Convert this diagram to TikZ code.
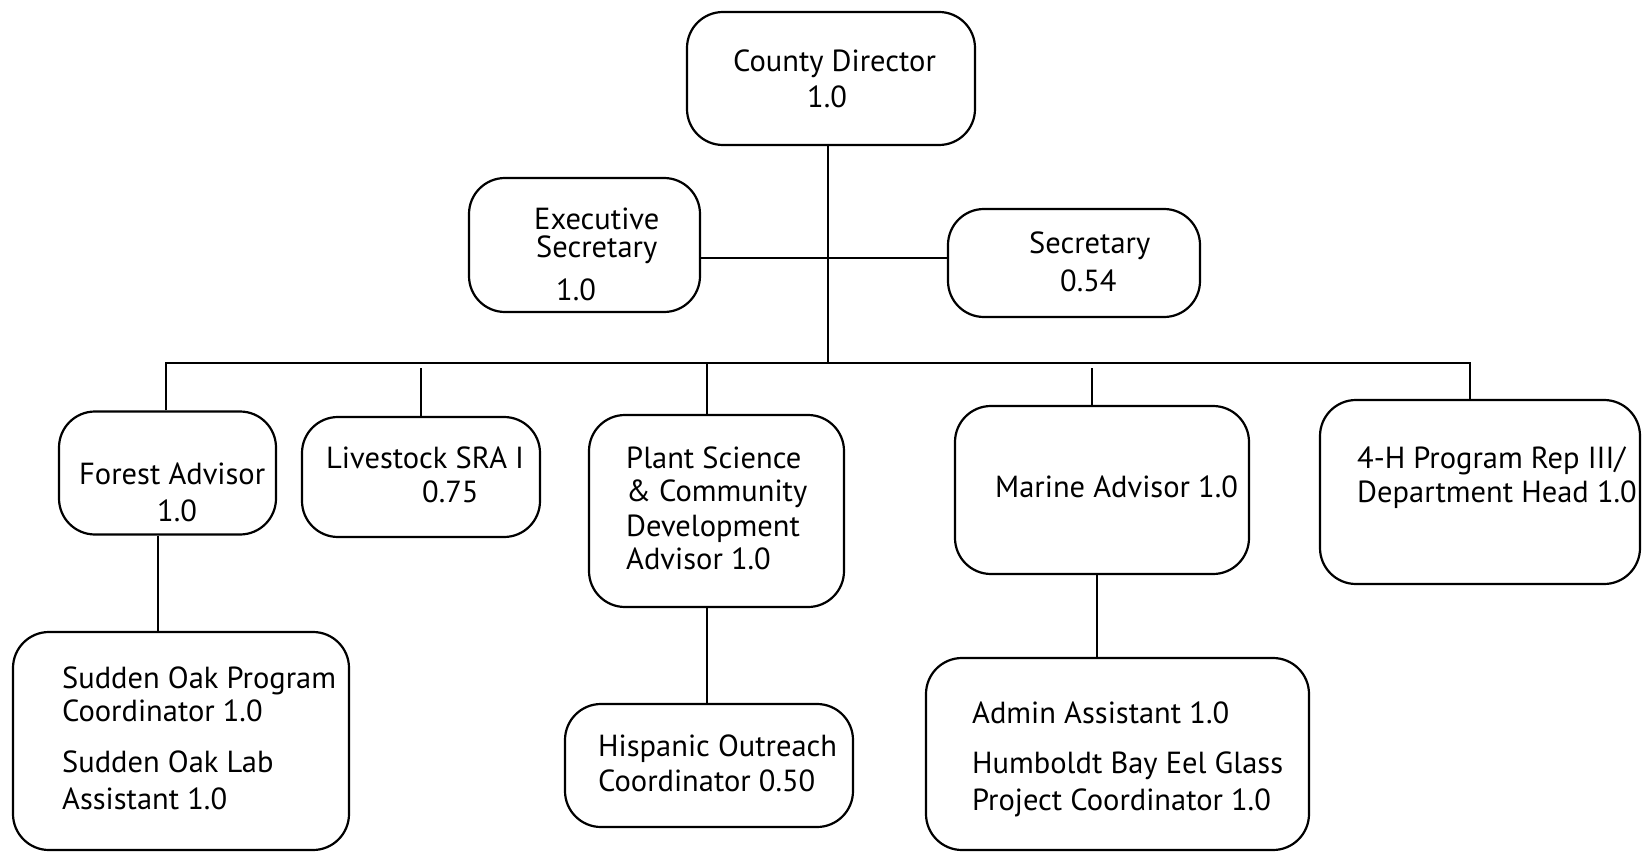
\documentclass[tikz,border=0pt]{standalone}
\usepackage{fontspec}
\setmainfont{PT Sans}
\begin{document}
\begin{tikzpicture}[x=1pt,y=-1pt,
  box/.style={draw=black,line width=2.2pt,rounded corners=36pt,inner sep=0pt},
  txt/.style={anchor=base west,inner sep=0pt,font=\fontsize{30.5}{36}\selectfont},
  link/.style={line width=2.6pt}]
\useasboundingbox (0,0) rectangle (1642,853);
% boxes
\node[box,minimum width=288,minimum height=133] (dir) at (831,78.5) {};
\node[box,minimum width=231,minimum height=134] (exec) at (584.5,245) {};
\node[box,minimum width=252,minimum height=108] (sec) at (1074,263) {};
\node[box,minimum width=217,minimum height=123] (forest) at (167.5,473) {};
\node[box,minimum width=238,minimum height=120] (live) at (421,477) {};
\node[box,minimum width=255,minimum height=192] (plant) at (716.5,511) {};
\node[box,minimum width=294,minimum height=168] (marine) at (1102,490) {};
\node[box,minimum width=320,minimum height=184] (fourh) at (1480,492) {};
\node[box,minimum width=336,minimum height=218] (oak) at (181,741) {};
\node[box,minimum width=288,minimum height=123] (hisp) at (709,765.5) {};
\node[box,minimum width=383,minimum height=192] (admin) at (1117.5,754) {};
% texts
\node[txt] (t1) at (733,72) {County Director};
\node[txt] (t2) at (807,108) {1.0};
\node[txt] (t3) at (534,230) {Executive};
\node[txt] (t4) at (536,258) {Secretary};
\node[txt] (t5) at (556,301) {1.0};
\node[txt] (t6) at (1029,254) {Secretary};
\node[txt] (t7) at (1060,291) {0.54};
\node[txt] (t8) at (79,484) {Forest Advisor};
\node[txt] (t9) at (157,521) {1.0};
\node[txt] (t10) at (326,468) {Livestock SRA I};
\node[txt] (t11) at (422,502) {0.75};
\node[txt] (t12) at (626,468) {Plant Science};
\node[txt] (t13) at (626,501) {\& Community};
\node[txt] (t14) at (626,536) {Development};
\node[txt] (t15) at (626,569) {Advisor 1.0};
\node[txt] (t16) at (995,497) {Marine Advisor 1.0};
\node[txt] (t17) at (1357,468) {4-H Program Rep III/};
\node[txt] (t18) at (1357,502) {Department Head 1.0};
\node[txt] (t19) at (62,688) {Sudden Oak Program};
\node[txt] (t20) at (62,721) {Coordinator 1.0};
\node[txt] (t21) at (62,772) {Sudden Oak Lab};
\node[txt] (t22) at (62,809) {Assistant 1.0};
\node[txt] (t23) at (598,756) {Hispanic Outreach};
\node[txt] (t24) at (598,791) {Coordinator 0.50};
\node[txt] (t25) at (972,723) {Admin Assistant 1.0};
\node[txt] (t26) at (972,773) {Humboldt Bay Eel Glass};
\node[txt] (t27) at (972,810) {Project Coordinator 1.0};
% connectors
\coordinate (mid) at (828,258);
\coordinate (bus) at (828,363);
\coordinate (busL) at (166,363);
\coordinate (busR) at (1470,363);
\coordinate (liveT) at (421,368);
\coordinate (marT) at (1092,368);
\draw[link] (dir.south -| bus) -- (bus);
\draw[link] (exec.east |- mid) -- (sec.west |- mid);
\draw[link] (busL |- forest.north) -- (busL) -- (busR) -- (busR |- fourh.north);
\draw[link] (liveT) -- (liveT |- live.north);
\draw[link] (plant.north -| 707,0) -- (707,363);
\draw[link] (marT) -- (marT |- marine.north);
\draw[link] (forest.south -| 158,0) -- (oak.north -| 158,0);
\draw[link] (plant.south -| 707,0) -- (hisp.north -| 707,0);
\draw[link] (marine.south -| 1097,0) -- (admin.north -| 1097,0);
\end{tikzpicture}
\end{document}
